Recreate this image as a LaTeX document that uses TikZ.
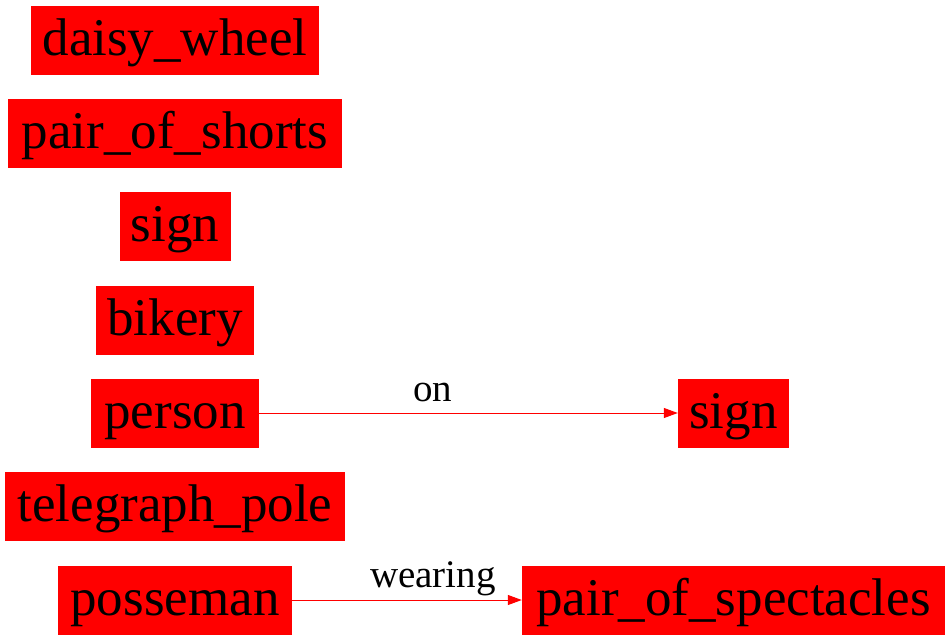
\documentclass[tikz,border=0pt]{standalone}
\usepackage{fontspec}
\setmainfont{Liberation Serif}
\usetikzlibrary{arrows.meta}

\begin{document}
\begin{tikzpicture}[x=1pt,y=-1pt,
  obj/.style={fill=red,draw=none,inner sep=0pt,minimum height=69pt,text height=40pt,text depth=9pt,font=\fontsize{53}{60}\selectfont},
  rel/.style={red,line width=1pt,-{Triangle[length=14pt,width=10pt]}},
  lab/.style={text=black,font=\fontsize{39}{44}\selectfont,inner sep=1pt}]
\useasboundingbox (0,0) rectangle (951,640);
\node[obj,minimum width=288pt] (daisy) at (175,40) {daisy\_wheel};
\node[obj,minimum width=334pt] (shorts) at (175,133) {pair\_of\_shorts};
\node[obj,minimum width=111pt] (signA) at (175,226) {sign};
\node[obj,minimum width=158pt] (bikery) at (175,320) {bikery};
\node[obj,minimum width=168pt] (person) at (175,413) {person};
\node[obj,minimum width=340pt] (pole) at (175,506) {telegraph\_pole};
\node[obj,minimum width=234pt] (posseman) at (175,600) {posseman};
\node[obj,minimum width=111pt] (signB) at (733.5,413) {sign};
\node[obj,minimum width=423pt] (spectacles) at (733.5,600) {pair\_of\_spectacles};
\draw[rel] (person) -- node[lab,pos=0.415,above=10pt] {on} (signB);
\draw[rel] (posseman) -- node[lab,pos=0.613,above=3pt] {wearing} (spectacles);
\end{tikzpicture}
\end{document}
